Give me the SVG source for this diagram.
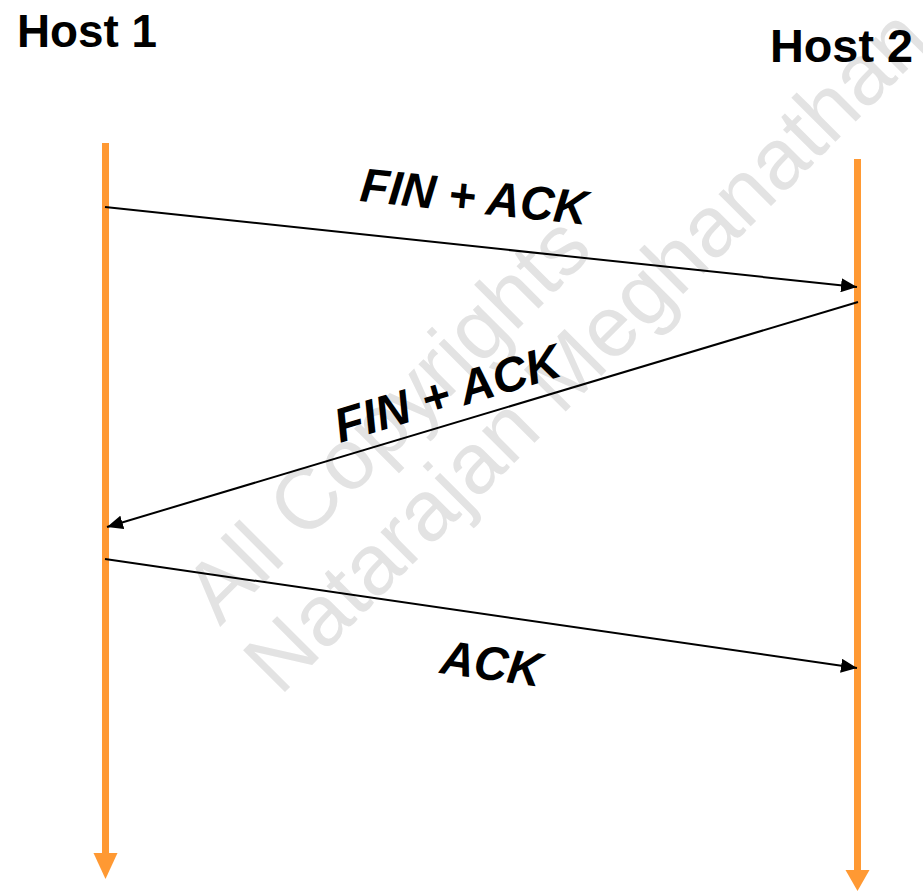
<svg xmlns="http://www.w3.org/2000/svg" width="923" height="892" viewBox="0 0 923 892">
  <style>
    .host { font-family: "Liberation Sans", Arial, sans-serif; font-weight: bold; font-size: 46px; fill: #000; }
    .msg { font-family: "Liberation Sans", Arial, sans-serif; font-weight: bold; font-style: italic; font-size: 48px; fill: #000; }
    .mark { font-family: "Liberation Sans", Arial, sans-serif; font-size: 86px; fill: #e3e3e3; }
    .life { stroke: #ff9933; stroke-width: 7; fill: none; }
    .head { fill: #ff9933; }
    .conn { stroke: #000; stroke-width: 2; fill: none; marker-end: url(#tip); }
  </style>
  <defs>
    <marker id="tip" markerUnits="userSpaceOnUse" markerWidth="17" markerHeight="14" refX="16" refY="7" orient="auto" viewBox="0 0 17 14">
      <path d="M0,0 L16,7 L0,14 z" fill="#000"/>
    </marker>
  </defs>
  <rect width="923" height="892" fill="#fff"/>

  <!-- watermark -->
  <g id="watermark" transform="translate(220,627) rotate(-45)">
    <text class="mark" x="0" y="0">All Copyrights</text>
    <text class="mark" x="-7" y="92">Natarajan Meghanathan</text>
  </g>

  <!-- hosts with their timelines -->
  <g id="host1">
    <text class="host" x="17" y="47" textLength="140" lengthAdjust="spacingAndGlyphs">Host 1</text>
    <line class="life" x1="105.5" y1="143" x2="105.5" y2="855"/>
    <polygon class="head" points="93.5,853 117.5,853 105.5,879"/>
  </g>
  <g id="host2">
    <text class="host" x="770" y="62" textLength="143" lengthAdjust="spacingAndGlyphs">Host 2</text>
    <line class="life" x1="857.5" y1="159" x2="857.5" y2="872"/>
    <polygon class="head" points="845.5,870 869.5,870 857.5,891"/>
  </g>

  <!-- messages -->
  <g id="connectors">
    <line class="conn" x1="105" y1="207" x2="857" y2="287"/>
    <line class="conn" x1="858" y1="302" x2="107" y2="527"/>
    <line class="conn" x1="105" y1="559" x2="857" y2="668"/>
  </g>
  <g id="labels">
    <text class="msg" transform="translate(359,201) rotate(6)" textLength="228" lengthAdjust="spacingAndGlyphs">FIN + ACK</text>
    <text class="msg" transform="translate(340,443) rotate(-16.8)" textLength="234" lengthAdjust="spacingAndGlyphs">FIN + ACK</text>
    <text class="msg" transform="translate(439,673) rotate(7.8)" textLength="101" lengthAdjust="spacingAndGlyphs">ACK</text>
  </g>
</svg>
